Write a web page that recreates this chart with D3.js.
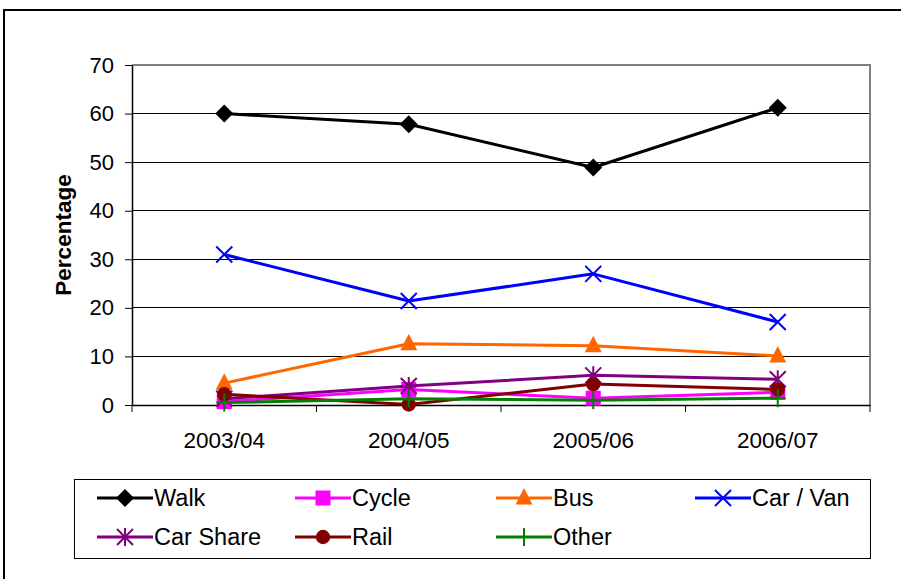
<!DOCTYPE html>
<html>
<head>
<meta charset="utf-8">
<script src="https://cdn.jsdelivr.net/npm/d3@7"></script>
<style>
  body { margin: 0; background: #fff; }
  svg { display: block; font-family: "Liberation Sans", Arial, sans-serif; }
</style>
</head>
<body>
<svg id="chart" width="901" height="579"></svg>
<script>
// Mode of travel share by school year (percentage)
const years = ["2003/04", "2004/05", "2005/06", "2006/07"];
const walk     = [60.0, 57.8, 48.9, 61.2];
const cycle    = [0.7, 3.2, 1.4, 2.6];
const bus      = [4.5, 12.6, 12.2, 10.1];
const carVan   = [31.0, 21.4, 27.0, 17.1];
const carShare = [1.3, 3.9, 6.1, 5.3];
const rail     = [2.2, 0.1, 4.3, 3.2];
const other    = [0.5, 1.3, 1.0, 1.4];
const yTicks   = [0, 10, 20, 30, 40, 50, 60, 70];
const seriesNames = ["Walk", "Cycle", "Bus", "Car / Van", "Car Share", "Rail", "Other"];

const series = [
  { name: seriesNames[0], values: walk,     color: "#000000", marker: "diamond" },
  { name: seriesNames[1], values: cycle,    color: "#FF00FF", marker: "square" },
  { name: seriesNames[2], values: bus,      color: "#FF6600", marker: "triangle" },
  { name: seriesNames[3], values: carVan,   color: "#0000FF", marker: "cross" },
  { name: seriesNames[4], values: carShare, color: "#800080", marker: "star" },
  { name: seriesNames[5], values: rail,     color: "#800000", marker: "circle" },
  { name: seriesNames[6], values: other,    color: "#008000", marker: "plus" }
];

const svg = d3.select("#chart");
const plot = { left: 132, right: 870, top: 65, bottom: 405 };

const x = d3.scaleBand().domain(years).range([plot.left, plot.right]);
const y = d3.scaleLinear().domain([0, 70]).range([plot.bottom, plot.top]);

// outer chart frame
svg.append("path")
  .attr("d", "M4,579V10H901")
  .attr("fill", "none").attr("stroke", "#000").attr("stroke-width", 2);

// gridlines
svg.append("g").selectAll("line")
  .data(yTicks.filter(t => t > 0 && t < 70))
  .join("line")
  .attr("x1", plot.left).attr("x2", plot.right)
  .attr("y1", d => y(d)).attr("y2", d => y(d))
  .attr("stroke", "#000").attr("stroke-width", 1)
  .attr("shape-rendering", "crispEdges");

// plot area border (top / right)
svg.append("path")
  .attr("d", `M${plot.left},${plot.top}H${plot.right}V${plot.bottom}`)
  .attr("fill", "none").attr("stroke", "#808080").attr("stroke-width", 2);

// y axis
const yAxis = svg.append("g")
  .attr("transform", `translate(${plot.left},0)`)
  .call(d3.axisLeft(y).tickValues(yTicks).tickSize(7).tickSizeOuter(0).tickPadding(11));
yAxis.select(".domain").attr("stroke", "#000").attr("stroke-width", 1.5);
yAxis.selectAll(".tick line").attr("stroke", "#000");
yAxis.selectAll("text").attr("font-size", 22).attr("fill", "#000")
  .attr("font-family", "Liberation Sans, Arial, sans-serif");

// x axis (labels at band centres, ticks at band edges)
const xAxis = svg.append("g")
  .attr("transform", `translate(0,${plot.bottom})`)
  .call(d3.axisBottom(x).tickSize(0).tickPadding(27).tickSizeOuter(0));
xAxis.select(".domain").attr("stroke", "#000").attr("stroke-width", 1.5);
xAxis.selectAll("text").attr("font-size", 22.5).attr("fill", "#000")
  .attr("font-family", "Liberation Sans, Arial, sans-serif");
const edges = years.map(d => x(d)).concat([x.range()[1]]);
svg.append("g").selectAll("line")
  .data(edges).join("line")
  .attr("x1", d => d).attr("x2", d => d)
  .attr("y1", plot.bottom).attr("y2", plot.bottom + 7)
  .attr("stroke", "#000").attr("stroke-width", 1);

// y axis title
svg.append("text")
  .attr("transform", `translate(63,${(plot.top + plot.bottom) / 2}) rotate(-90)`)
  .attr("text-anchor", "middle").attr("dominant-baseline", "central")
  .attr("font-size", 22.5).attr("font-weight", "bold").attr("fill", "#000")
  .text("Percentage");

// marker drawing
function drawMarker(g, type, color) {
  const s = 8;
  if (type === "diamond") {
    g.append("path").attr("d", "M0,-9L9,0L0,9L-9,0Z").attr("fill", color);
  } else if (type === "square") {
    g.append("rect").attr("x", -7.5).attr("y", -7.5).attr("width", 15).attr("height", 15).attr("fill", color);
  } else if (type === "triangle") {
    g.append("path").attr("d", "M0,-10L8.5,6.5L-8.5,6.5Z").attr("fill", color);
  } else if (type === "circle") {
    g.append("circle").attr("r", 7.2).attr("fill", color);
  } else if (type === "cross") {
    g.append("path").attr("d", `M${-s},${-s}L${s},${s}M${-s},${s}L${s},${-s}`)
      .attr("stroke", color).attr("stroke-width", 2).attr("fill", "none");
  } else if (type === "star") {
    g.append("path").attr("d", `M${-s},${-s}L${s},${s}M${-s},${s}L${s},${-s}M0,${-s - 1}L0,${s + 1}`)
      .attr("stroke", color).attr("stroke-width", 2).attr("fill", "none");
  } else if (type === "plus") {
    g.append("path").attr("d", `M${-s},0L${s},0M0,${-s - 1}L0,${s + 1}`)
      .attr("stroke", color).attr("stroke-width", 2).attr("fill", "none");
  }
}

const cx = d => x(d) + x.bandwidth() / 2;
const line = d3.line().x((v, i) => cx(years[i])).y(v => y(v));

// series lines and markers
series.forEach(s => {
  const g = svg.append("g");
  g.append("path").attr("d", line(s.values))
    .attr("fill", "none").attr("stroke", s.color).attr("stroke-width", 3)
    .attr("stroke-linejoin", "round");
  s.values.forEach((v, i) => {
    drawMarker(g.append("g").attr("transform", `translate(${cx(years[i])},${y(v)})`), s.marker, s.color);
  });
});

// legend
const legend = svg.append("g");
legend.append("rect")
  .attr("x", 74.5).attr("y", 479.5).attr("width", 796).attr("height", 79)
  .attr("fill", "#fff").attr("stroke", "#000").attr("stroke-width", 1);
const colX = [97, 295, 496, 695];
const rowY = [498, 537];
series.forEach((s, i) => {
  const lx = colX[i % 4], ly = rowY[Math.floor(i / 4)];
  const g = legend.append("g");
  g.append("line").attr("x1", lx).attr("x2", lx + 56).attr("y1", ly).attr("y2", ly)
    .attr("stroke", s.color).attr("stroke-width", 3);
  drawMarker(g.append("g").attr("transform", `translate(${lx + 28},${ly})`), s.marker, s.color);
  g.append("text").attr("x", lx + 57).attr("y", ly)
    .attr("dominant-baseline", "central").attr("font-size", 23.5).attr("fill", "#000")
    .text(s.name);
});
</script>
</body>
</html>
